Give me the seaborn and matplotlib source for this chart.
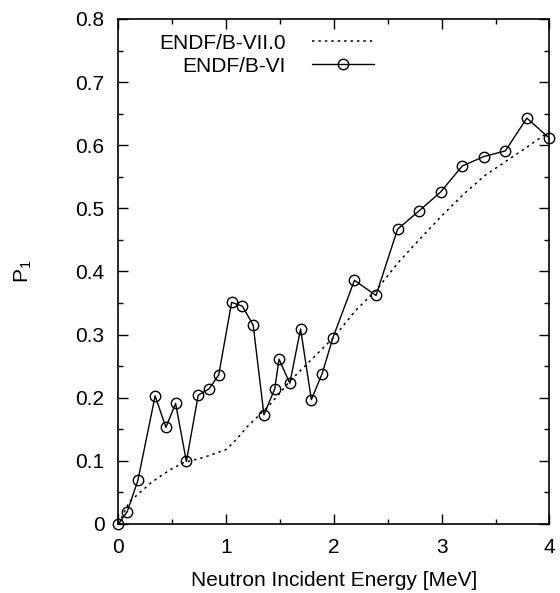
import matplotlib
matplotlib.use("Agg")
import matplotlib.pyplot as plt
from matplotlib.ticker import MultipleLocator, FuncFormatter
import numpy as np
import pandas as pd
import seaborn as sns

# ENDF/B-VII.0 evaluation (smooth curve)
e_vii = [0.0, 0.1, 0.2, 0.3, 0.4, 0.5, 0.6, 0.8, 1.0, 1.1, 1.2, 1.4, 1.6,
         1.8, 2.0, 2.2, 2.4, 2.6, 2.8, 3.0, 3.2, 3.4, 3.6, 3.8, 4.0]
p1_vii = [0.0, 0.035, 0.05, 0.065, 0.077, 0.088, 0.097, 0.106, 0.118, 0.135,
          0.155, 0.188, 0.228, 0.262, 0.296, 0.338, 0.372, 0.415, 0.452,
          0.488, 0.522, 0.552, 0.575, 0.598, 0.622]

# ENDF/B-VI evaluation (tabulated points)
e_vi = [0.0, 0.08, 0.18, 0.34, 0.44, 0.53, 0.63, 0.74, 0.84, 0.93, 1.05,
        1.15, 1.25, 1.35, 1.45, 1.49, 1.59, 1.69, 1.79, 1.89, 1.99, 2.19,
        2.39, 2.59, 2.79, 2.99, 3.19, 3.39, 3.59, 3.79, 4.0]
p1_vi = [0.0, 0.019, 0.069, 0.203, 0.153, 0.191, 0.099, 0.204, 0.214, 0.236,
         0.351, 0.345, 0.315, 0.173, 0.214, 0.261, 0.223, 0.309, 0.197,
         0.238, 0.295, 0.386, 0.362, 0.467, 0.496, 0.526, 0.567, 0.582,
         0.591, 0.643, 0.611]

x_ticks = [0, 1, 2, 3, 4]
y_ticks = [0, 0.1, 0.2, 0.3, 0.4, 0.5, 0.6, 0.7, 0.8]

df_vii = pd.DataFrame({"E": e_vii, "P1": p1_vii})
df_vi = pd.DataFrame({"E": e_vi, "P1": p1_vi})

sns.set_theme(style="ticks")
plt.rcParams["font.family"] = ["Liberation Sans", "DejaVu Sans"]
plt.rcParams["mathtext.fontset"] = "custom"
plt.rcParams["mathtext.rm"] = "Liberation Sans"
plt.rcParams["mathtext.it"] = "Liberation Sans"
plt.rcParams["text.color"] = "black"

fig = plt.figure(figsize=(5.6, 5.93), dpi=100)
ax = fig.add_axes([0.2116, 0.1164, 0.7696, 0.8516])

sns.lineplot(data=df_vii, x="E", y="P1", ax=ax, color="black",
             linewidth=1.1, linestyle=(0, (1.6, 2.6)),
             label="ENDF/B-VII.0")
sns.lineplot(data=df_vi, x="E", y="P1", ax=ax, color="black",
             linewidth=1.0, marker="o", markersize=7.5,
             markerfacecolor="none", markeredgecolor="black",
             markeredgewidth=1.0, label="ENDF/B-VI")

for ln in ax.get_lines():
    ln.set_clip_on(False)

ax.set_xlim(0, 4)
ax.set_ylim(0, 0.8)
ax.set_xticks(x_ticks)
ax.set_yticks(y_ticks)
ax.xaxis.set_minor_locator(MultipleLocator(0.5))
ax.yaxis.set_minor_locator(MultipleLocator(0.05))
fmt = FuncFormatter(lambda v, p: "%g" % round(v, 2))
ax.xaxis.set_major_formatter(fmt)
ax.yaxis.set_major_formatter(fmt)

ax.tick_params(which="both", direction="in", top=True, right=True,
               labelsize=15, color="black", labelcolor="black", width=1.0)
ax.tick_params(which="major", length=7, pad=10)
ax.tick_params(which="minor", length=3.8)

for sp in ax.spines.values():
    sp.set_visible(True)
    sp.set_color("black")
    sp.set_linewidth(1.2)

ax.set_xlabel("Neutron Incident Energy [MeV]", fontsize=15, labelpad=10,
              color="black")
ax.set_ylabel("P$_1$", fontsize=15, labelpad=30, color="black")
ax.set_facecolor("white")
fig.patch.set_facecolor("white")

leg = ax.legend(loc="upper left", bbox_to_anchor=(0.06, 1.0),
                frameon=False, markerfirst=False, fontsize=15,
                handlelength=3.0, handletextpad=1.25, labelspacing=0.2,
                borderaxespad=0.3)
for t in leg.get_texts():
    t.set_color("black")

fig.savefig("out.png", dpi=100)
